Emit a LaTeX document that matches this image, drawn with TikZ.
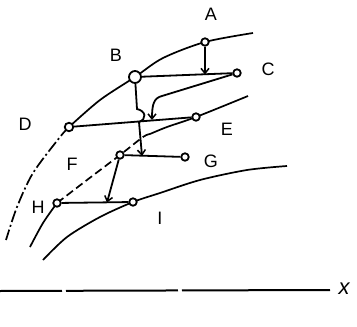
\documentclass[tikz,border=0pt]{standalone}
\usepackage{fontspec}
\setmainfont{Liberation Sans}
\usetikzlibrary{arrows.meta}
\begin{document}
\begin{tikzpicture}[x=1pt,y=-1pt,
  pt/.style={circle,draw,line width=1.8pt,inner sep=0pt,minimum size=7.5pt,fill=white},
  bigpt/.style={pt,minimum size=12pt},
  lbl/.style={font=\fontsize{18}{20}\selectfont},
  wire/.style={line width=1.8pt},
  curve/.style={line width=1.7pt},
  arr/.style={wire,-{Straight Barb[length=5pt,width=8pt,line width=1.5pt]}}]
\useasboundingbox (0,0) rectangle (357,327);
% curves
\draw[curve] plot[smooth] coordinates {(253,33) (205,42) (163,58) (135,77) (100,100) (69,127)};
\draw[curve,dash pattern=on 12pt off 3pt on 2pt off 3pt] plot[smooth] coordinates {(69,127) (60,137) (33,173) (17,207) (6,240)};
\draw[curve] plot[smooth] coordinates {(248,96) (196,117) (167,127) (150,134)};
\draw[curve,dash pattern=on 8pt off 4pt] plot[smooth] coordinates {(150,134) (143,137) (120,155) (87,180) (57,203)};
\draw[curve] plot[smooth] coordinates {(57,203) (43,223) (30,247)};
\draw[curve] plot[smooth] coordinates {(287,166) (247,170) (200,180) (160,193) (133,202) (100,217) (67,237) (43,260)};
% x axis
\coordinate (x0) at (0,291);
\coordinate (x1) at (330,290);
\draw[line width=2pt,dash pattern=on 62pt off 4pt on 112pt off 4pt on 200pt off 0pt] (x0) -- (x1);
\node[lbl,font=\fontsize{22}{24}\selectfont\itshape] (xl) at (344,289) {x};
% nodes
\node[pt] (A) at (205,42) {};
\node[bigpt] (B) at (135,77) {};
\node[pt] (C) at (237,73) {};
\node[pt,minimum size=8.5pt] (D) at (69,127) {};
\node[pt] (E) at (196,117) {};
\node[pt] (F) at (120,155) {};
\node[pt] (G) at (185,157) {};
\node[pt] (H) at (57,203) {};
\node[pt] (I) at (133,202) {};
% labels
\node[lbl] (lA) at (211,14) {A};
\node[lbl] (lB) at (116,55) {B};
\node[lbl] (lC) at (268,69) {C};
\node[lbl] (lD) at (25,124) {D};
\node[lbl] (lE) at (227,129) {E};
\node[lbl] (lF) at (72,164) {F};
\node[lbl] (lG) at (211,161) {G};
\node[lbl] (lH) at (38,207) {H};
\node[lbl] (lI) at (160,218) {I};
% junction points
\coordinate (jA) at (205,74.5);
\coordinate (jC) at (152,120);
\coordinate (jB) at (142,156);
\coordinate (jF) at (107,202.5);
% connectors
\draw[wire] (B) -- (C);
\draw[wire] (D) -- (E);
\draw[wire] (F) -- (G);
\draw[wire] (H) -- (I);
\draw[arr] (A) -- (jA);
\draw[arr] (C) -- (162,96) .. controls (154,98) and (152,104) .. (jC);
\draw[arr] (B) -- (137,109) .. controls (146,111) and (147,119) .. (139,122) -- (jB);
\draw[arr] (F) -- (jF);
\end{tikzpicture}
\end{document}
